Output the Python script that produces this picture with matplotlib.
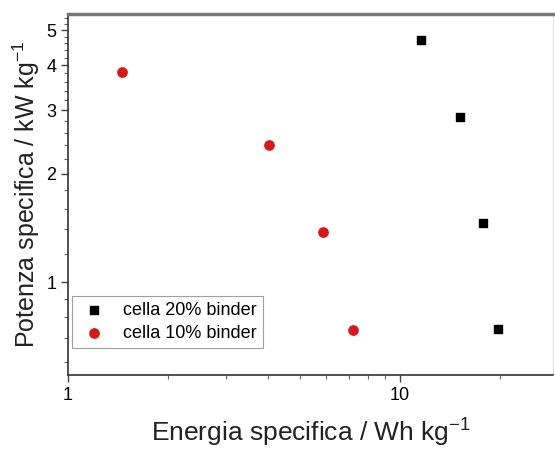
import numpy as np
import matplotlib.pyplot as plt
from matplotlib.ticker import LogLocator, FixedLocator, FuncFormatter, NullFormatter

plt.rcParams['font.family'] = ['Liberation Sans', 'DejaVu Sans']
plt.rcParams['mathtext.fontset'] = 'custom'
plt.rcParams['mathtext.rm'] = 'Liberation Sans'
plt.rcParams['mathtext.it'] = 'Liberation Sans'
plt.rcParams['mathtext.default'] = 'regular'

# energia specifica (Wh/kg) e potenza specifica (kW/kg)
energy_20 = [11.6, 15.2, 17.8, 19.7]
power_20 = [4.70, 2.87, 1.46, 0.74]
energy_10 = [1.45, 4.03, 5.86, 7.22]
power_10 = [3.83, 2.40, 1.38, 0.736]

labels = ['cella 20% binder', 'cella 10% binder']

fig = plt.figure(figsize=(5.55, 4.5), dpi=100)
ax = fig.add_axes([68 / 555, 1 - 375 / 450, (553 - 68) / 555, (375 - 14) / 450])

ax.scatter(energy_20, power_20, marker='s', s=40, c='black', label=labels[0], zorder=3)
ax.scatter(energy_10, power_10, marker='o', s=45, c='#d7191c', label=labels[1], zorder=3)

ax.set_xscale('log')
ax.set_yscale('log')
ax.set_xlim(1, 28.9)
ax.set_ylim(0.552, 5.55)

ax.xaxis.set_major_locator(FixedLocator([1, 10]))
ax.xaxis.set_major_formatter(FuncFormatter(lambda v, p: f'{v:g}'))
ax.xaxis.set_minor_locator(LogLocator(base=10, subs=np.arange(2, 10)))
ax.xaxis.set_minor_formatter(NullFormatter())

ax.yaxis.set_major_locator(FixedLocator([1, 2, 3, 4, 5]))
ax.yaxis.set_major_formatter(FuncFormatter(lambda v, p: f'{v:g}'))
ax.yaxis.set_minor_locator(FixedLocator(list(np.arange(0.6, 1.0, 0.1)) + list(np.arange(1.2, 5.6, 0.2))))
ax.yaxis.set_minor_formatter(NullFormatter())

ax.tick_params(which='major', direction='out', length=5, width=1, labelsize=13, color='#444444')
ax.tick_params(which='minor', direction='out', length=3, width=0.8, color='#666666')

for side in ['left', 'bottom']:
    ax.spines[side].set_color('#333333')
    ax.spines[side].set_linewidth(1.2)
ax.spines['top'].set_color('#777777')
ax.spines['top'].set_linewidth(2.5)
ax.spines['right'].set_color('#dddddd')
ax.spines['right'].set_linewidth(0.8)

ax.set_xlabel('Energia specifica / Wh kg$^{-1}$', fontsize=19, labelpad=9, color='#222222')
ax.set_ylabel('Potenza specifica / kW kg$^{-1}$', fontsize=18, labelpad=3, color='#222222')

leg = ax.legend(loc='lower left', bbox_to_anchor=(0.008, 0.075), borderaxespad=0,
                fontsize=13, frameon=True, fancybox=False, edgecolor='#888888',
                handletextpad=0.7, borderpad=0.35, labelspacing=0.3, handlelength=1.8)
leg.get_frame().set_linewidth(0.8)

fig.savefig('out.png', dpi=100)
